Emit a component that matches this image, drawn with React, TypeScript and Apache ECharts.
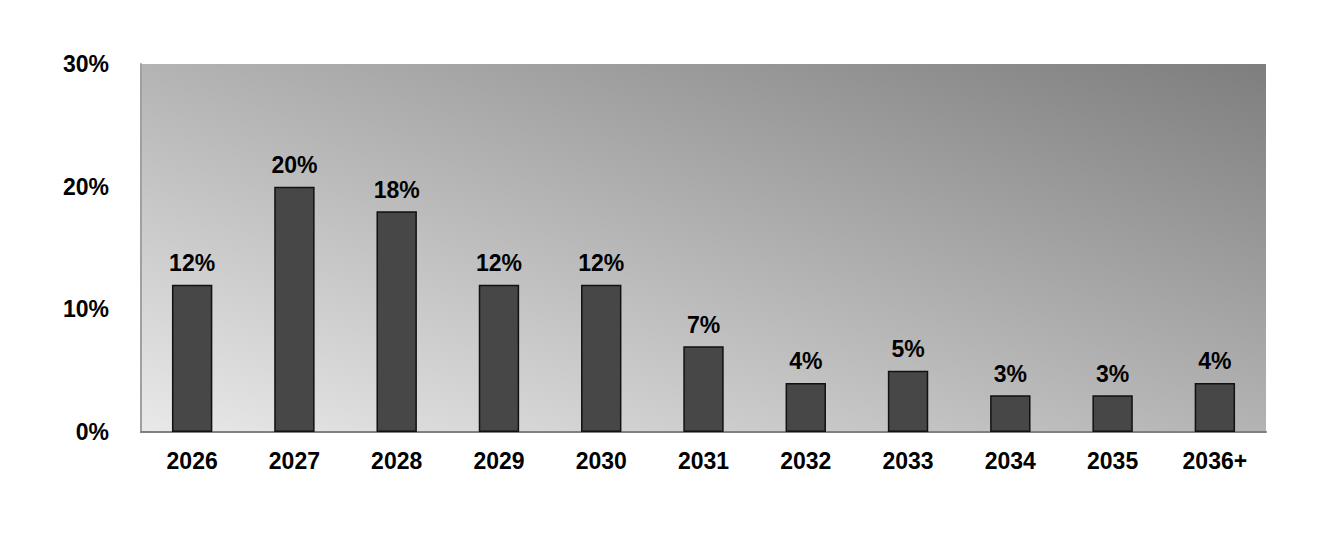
import * as echarts from 'echarts';
import React, { useEffect, useRef } from 'react';

const categories = ['2026', '2027', '2028', '2029', '2030', '2031', '2032', '2033', '2034', '2035', '2036+'];
const shares = [12, 20, 18, 12, 12, 7, 4, 5, 3, 3, 4];
const yTicks = [0, 10, 20, 30];

const font = '"Liberation Sans", Arial, sans-serif';

const App: React.FC = () => {
  const chartRef = useRef<HTMLDivElement>(null);

  useEffect(() => {
    if (!chartRef.current) return;
    const chart = echarts.init(chartRef.current, null, { renderer: 'svg' });

    const option: echarts.EChartsOption = {
      animation: false,
      grid: {
        left: 133,
        right: 56,
        top: 56,
        bottom: 98,
        show: true,
        borderWidth: 0,
        backgroundColor: {
          type: 'linear',
          x: 0,
          y: 1,
          x2: 1,
          y2: 0,
          colorStops: [
            { offset: 0, color: '#e9e9e9' },
            { offset: 1, color: '#7e7e7e' },
          ],
        } as any,
      },
      xAxis: {
        type: 'category',
        data: categories,
        axisLine: { lineStyle: { color: '#808080', width: 2 } },
        axisTick: { show: false },
        axisLabel: {
          color: '#000',
          fontFamily: font,
          fontWeight: 'bold',
          fontSize: 23,
          margin: 17,
        },
      },
      yAxis: {
        type: 'value',
        min: yTicks[0],
        max: yTicks[yTicks.length - 1],
        interval: 10,
        axisLine: { show: true, lineStyle: { color: '#a0a0a0', width: 2 } },
        axisTick: { show: false },
        splitLine: { show: false },
        axisLabel: {
          color: '#000',
          fontFamily: font,
          fontWeight: 'bold',
          fontSize: 23,
          margin: 32,
          formatter: '{value}%',
        },
      },
      series: [
        {
          type: 'bar',
          data: shares,
          barWidth: '39.5%',
          itemStyle: { color: '#474747', borderColor: '#111', borderWidth: 1.5 },
          label: {
            show: true,
            position: 'top',
            distance: 10,
            color: '#000',
            fontFamily: font,
            fontWeight: 'bold',
            fontSize: 23,
            formatter: '{c}%',
          },
        },
      ],
    };

    chart.setOption(option);
    const handleResize = () => chart.resize();
    window.addEventListener('resize', handleResize);
    return () => {
      window.removeEventListener('resize', handleResize);
      chart.dispose();
    };
  }, []);

  return <div ref={chartRef} style={{ width: '1314px', height: '522px' }} />;
};

export default App;
